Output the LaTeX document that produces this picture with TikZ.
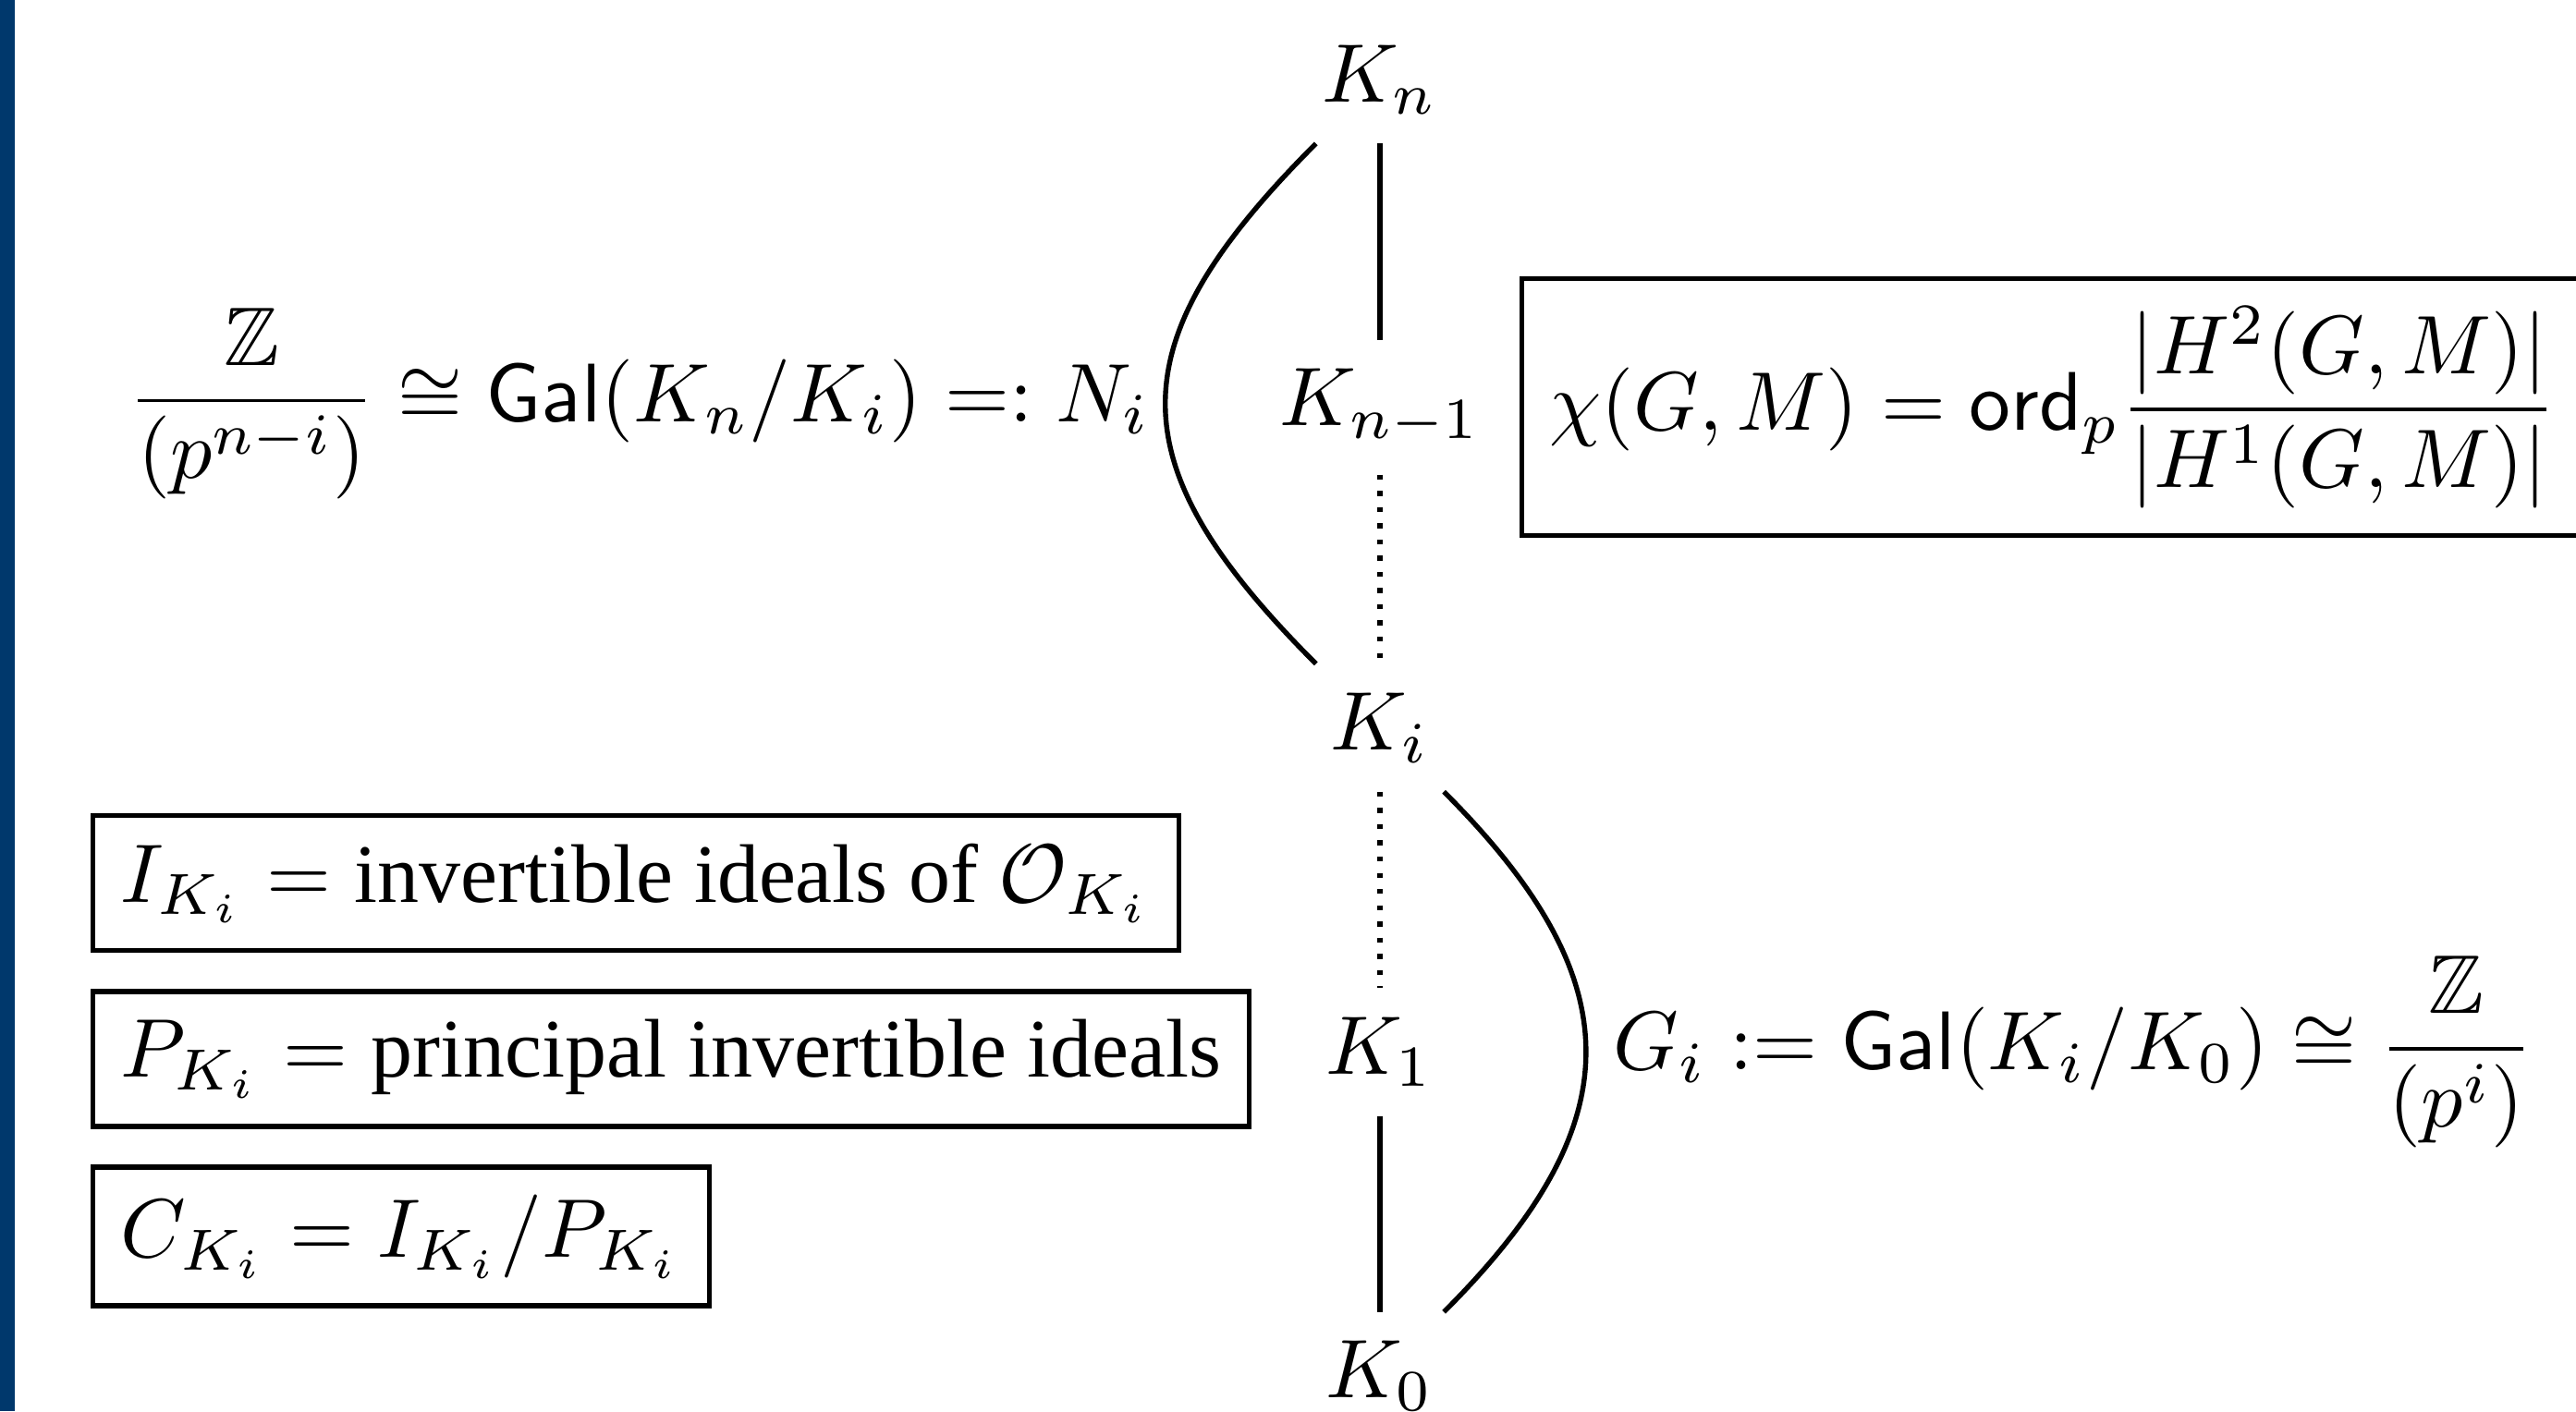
\documentclass[tikz,border=0pt]{standalone}
\usepackage{amsmath,amssymb}
\usepackage{fontspec}
\newfontfamily\timesrm{Liberation Serif}
\usepackage{tikz}
\usetikzlibrary{positioning, calc}
\definecolor{slideblue}{HTML}{00386C}

\begin{document}
\begin{tikzpicture}[
  field/.style={inner sep=3.33pt, anchor=base},
  defbox/.style={draw, line width=0.6pt, inner sep=3.33pt, anchor=north west,
    minimum height=0.57cm},
  ext/.style={line width=0.6pt},
  tower/.style={line width=0.6pt, dash pattern=on 0.6pt off 1.35pt},
  arc/.style={line width=0.6pt},
]
% page frame and side bar
\useasboundingbox (0,0) rectangle (10.887,-5.965);
\clip (0,0) rectangle (10.887,-5.965);
\fill[slideblue] (0,0) rectangle (0.0625,-5.965);

% Tower of fields
\node[field] (Kn) at (5.832,-0.43) {$K_n$};
\node[field] (Kn1) at ([yshift=-1.37cm]Kn.base) {$K_{n-1}$};
\node[field] (Ki) at ([yshift=-1.37cm]Kn1.base) {$K_i$};
\node[field] (K1) at ([yshift=-1.37cm]Ki.base) {$K_1$};
\node[field] (K0) at ([yshift=-1.37cm]K1.base) {$K_0$};

\draw[ext] (Kn) -- (Kn1);
\draw[tower] (Kn1) -- (Ki);
\draw[tower] (Ki) -- (K1);
\draw[ext] (K1) -- (K0);

% Galois groups
\draw[arc] (Kn) to[out=225, in=135, looseness=1.4]
  node[left, inner sep=1.5pt] (Ni) {$\dfrac{\mathbb{Z}}{(p^{n-i})} \cong \mathsf{Gal}(K_n/K_i) =: N_i$} (Ki);
\draw[arc] (Ki) to[out=-45, in=45, looseness=1.32]
  node[right, inner sep=3pt] (Gi) {$G_i := \mathsf{Gal}(K_i/K_0) \cong \dfrac{\mathbb{Z}}{(p^i)}$} (K0);

% Euler characteristic
\node[draw, ext, right=0.04cm of Kn1] (chi)
  {$\chi(G,M) = \mathsf{ord}_p \dfrac{|H^2(G,M)|}{|H^1(G,M)|}$};

% Ideal groups
\node[defbox] (IK) at (0.383,-3.4375)
  {$I_{K_i} = \text{\timesrm invertible ideals of } \mathcal{O}_{K_i}$};
\node[defbox, below=0.152cm of IK.south west, anchor=north west] (PK)
  {$P_{K_i} = \text{\timesrm principal invertible ideals}$};
\node[defbox, below=0.152cm of PK.south west, anchor=north west] (CK)
  {$C_{K_i} = I_{K_i}/P_{K_i}$};
\end{tikzpicture}
\end{document}
